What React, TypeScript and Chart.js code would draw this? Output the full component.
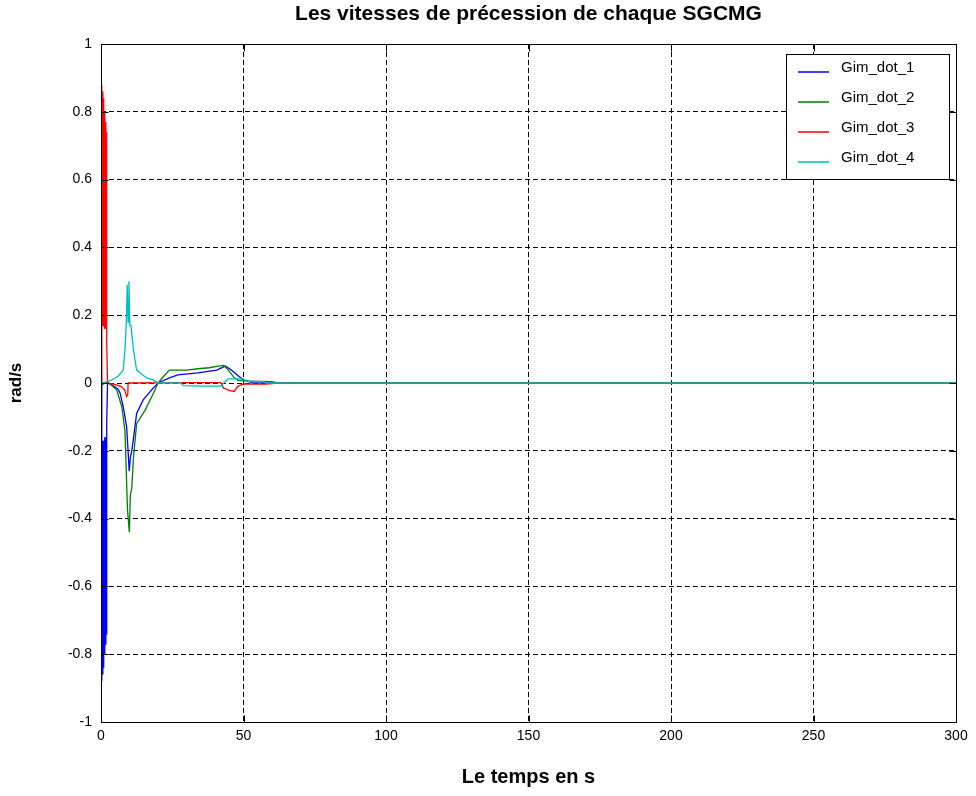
import React, { useEffect, useRef } from "react";
import { Chart, registerables } from "chart.js";

Chart.register(...registerables);

// Precession rates of each SGCMG gimbal: [time (s), rate (rad/s)]
const gimDot1: [number, number][] = [
  [0, 0], [0.2, -0.16], [0.35, -0.88], [0.5, -0.17], [0.65, -0.86], [0.8, -0.17],
  [0.95, -0.84], [1.1, -0.17], [1.25, -0.8], [1.4, -0.16], [1.55, -0.77], [1.7, -0.16],
  [1.85, -0.74], [2.0, -0.12], [2.3, 0], [3.2, -0.003], [5, -0.012], [6, -0.018],
  [6.7, -0.03], [7.8, -0.07], [9, -0.13], [9.5, -0.2], [9.9, -0.26], [10.3, -0.22],
  [10.8, -0.2], [11.3, -0.17], [12.5, -0.09], [14.8, -0.05], [18.3, -0.015], [20, 0],
  [24, 0.015], [27, 0.024], [34, 0.03], [40.6, 0.038], [43.6, 0.05], [45.5, 0.04],
  [47.7, 0.024], [50, 0.009], [53, 0.001], [300, 0],
];

const gimDot2: [number, number][] = [
  [0, 0], [0.5, -0.005], [2, 0.003], [3.5, -0.005], [5.5, -0.02], [7.3, -0.07],
  [8.4, -0.14], [9.3, -0.375], [9.95, -0.44], [10.3, -0.33], [10.8, -0.31], [11.4, -0.22],
  [12.5, -0.12], [15.5, -0.08], [18.4, -0.03], [20, 0], [22, 0.02], [24, 0.038],
  [30, 0.038], [34, 0.042], [38, 0.045], [41, 0.05], [43, 0.052], [44.5, 0.04],
  [46.5, 0.018], [48, 0.008], [50, 0.006], [56, 0.005], [60, 0.004], [62, 0], [300, 0],
];

const gimDot3: [number, number][] = [
  [0, 0], [0.2, 0.16], [0.35, 0.88], [0.5, 0.17], [0.65, 0.86], [0.8, 0.17],
  [0.95, 0.84], [1.1, 0.17], [1.25, 0.8], [1.4, 0.16], [1.55, 0.77], [1.7, 0.16],
  [1.85, 0.74], [2.0, 0.12], [2.3, 0], [3.5, -0.002], [5, -0.005], [7, -0.01],
  [8.3, -0.02], [9, -0.04], [9.4, -0.035], [9.5, 0], [28, 0.001], [42, 0.001],
  [43, -0.015], [45, -0.022], [46.7, -0.025], [48, -0.01], [50, -0.003], [58, -0.003],
  [62, 0], [300, 0],
];

const gimDot4: [number, number][] = [
  [0, 0], [2, 0.003], [3.8, 0.009], [6, 0.02], [7.8, 0.038], [8.4, 0.097],
  [8.9, 0.18], [9.2, 0.29], [9.5, 0.18], [9.8, 0.3], [10.1, 0.17], [10.5, 0.17],
  [11.4, 0.097], [12.5, 0.038], [16, 0.015], [18.3, 0.009], [20, 0], [28, 0],
  [29, -0.008], [36, -0.009], [42, -0.009], [44.6, 0.012], [50, 0.012], [51, 0.004],
  [57, 0.004], [58, 0], [300, 0],
];

const seriesLabels = ["Gim_dot_1", "Gim_dot_2", "Gim_dot_3", "Gim_dot_4"];
const seriesColors = ["#0000ff", "#008000", "#ff0000", "#00bfbf"];
const seriesData = [gimDot1, gimDot2, gimDot3, gimDot4];

const xTicks = [0, 50, 100, 150, 200, 250, 300];
const yTicks = [-1, -0.8, -0.6, -0.4, -0.2, 0, 0.2, 0.4, 0.6, 0.8, 1];

const FONT = "'Liberation Sans', Arial, Helvetica, sans-serif";

// Solid frame with inward tick marks on all four sides, plus the legend box
const framePlugin = {
  id: "frameAndLegend",
  afterDraw(chart: any) {
    const { ctx, chartArea: a, scales } = chart;
    ctx.save();
    ctx.strokeStyle = "#000";
    ctx.lineWidth = 1;
    ctx.setLineDash([]);
    const L = Math.round(a.left) + 0.5;
    const R = Math.round(a.right) + 0.5;
    const T = Math.round(a.top) + 0.5;
    const B = Math.round(a.bottom) + 0.5;
    ctx.strokeRect(L, T, R - L, B - T);
    const tick = 7;
    ctx.beginPath();
    for (const v of xTicks) {
      const x = Math.round(scales.x.getPixelForValue(v)) + 0.5;
      ctx.moveTo(x, B); ctx.lineTo(x, B - tick);
      ctx.moveTo(x, T); ctx.lineTo(x, T + tick);
    }
    for (const v of yTicks) {
      const y = Math.round(scales.y.getPixelForValue(v)) + 0.5;
      ctx.moveTo(L, y); ctx.lineTo(L + tick, y);
      ctx.moveTo(R, y); ctx.lineTo(R - tick, y);
    }
    ctx.stroke();

    // legend
    const bx = 786.5, by = 54.5, bw = 163, bh = 125;
    ctx.fillStyle = "#fff";
    ctx.fillRect(bx, by, bw, bh);
    ctx.strokeRect(bx, by, bw, bh);
    ctx.font = `15px ${FONT}`;
    ctx.textBaseline = "middle";
    ctx.textAlign = "left";
    seriesLabels.forEach((label, i) => {
      const y = 72 + i * 30;
      ctx.strokeStyle = seriesColors[i];
      ctx.lineWidth = 1.5;
      ctx.beginPath();
      ctx.moveTo(798, y);
      ctx.lineTo(829, y);
      ctx.stroke();
      ctx.fillStyle = "#000";
      ctx.fillText(label, 841, y - 4);
    });
    ctx.restore();
  },
};

export default function App() {
  const canvasRef = useRef<HTMLCanvasElement>(null);

  useEffect(() => {
    if (!canvasRef.current) return;
    const chart = new Chart(canvasRef.current, {
      type: "line",
      data: {
        datasets: seriesData.map((pts, i) => ({
          label: seriesLabels[i],
          data: pts.map(([x, y]) => ({ x, y })),
          borderColor: seriesColors[i],
          backgroundColor: seriesColors[i],
          borderWidth: 1.3,
          pointRadius: 0,
          tension: 0,
          fill: false,
          order: 4 - i,
        })),
      },
      options: {
        responsive: true,
        maintainAspectRatio: false,
        animation: false,
        events: [],
        layout: { padding: { left: 0, right: 20, top: 0, bottom: 0 } },
        plugins: {
          legend: { display: false },
          tooltip: { enabled: false },
          title: {
            display: true,
            text: "Les vitesses de précession de chaque SGCMG",
            fullSize: false,
            color: "#000",
            font: { family: FONT, size: 21, weight: "bold" },
            padding: { top: 2, bottom: 16.8 },
          },
        },
        scales: {
          x: {
            type: "linear",
            min: 0,
            max: 300,
            afterFit: (s: any) => { s.height = 74; },
            afterBuildTicks: (s: any) => { s.ticks = xTicks.map((v) => ({ value: v })); },
            ticks: {
              color: "#000",
              font: { family: FONT, size: 14 },
              padding: 6,
              maxRotation: 0,
              autoSkip: false,
              callback: (v: any) => String(v),
            },
            grid: { color: "#000", lineWidth: 1, drawTicks: false },
            border: { display: false, dash: [5, 3] },
            title: {
              display: true,
              text: "Le temps en s",
              color: "#000",
              font: { family: FONT, size: 20, weight: "bold" },
              padding: { top: 7, bottom: 7 },
            },
          },
          y: {
            type: "linear",
            min: -1,
            max: 1,
            afterFit: (s: any) => { s.width = 101; },
            afterBuildTicks: (s: any) => { s.ticks = yTicks.map((v) => ({ value: v })); },
            ticks: {
              color: "#000",
              font: { family: FONT, size: 14 },
              padding: 9,
              autoSkip: false,
              callback: (v: any) => String(Number(Number(v).toFixed(1))),
            },
            grid: { color: "#000", lineWidth: 1, drawTicks: false },
            border: { display: false, dash: [5, 3] },
            title: {
              display: true,
              text: "rad/s",
              color: "#000",
              font: { family: FONT, size: 17, weight: "bold" },
              padding: { top: 6, bottom: 6 },
            },
          },
        },
      },
      plugins: [framePlugin],
    } as any);
    return () => chart.destroy();
  }, []);

  return (
    <div
      style={{
        position: "absolute",
        left: 0,
        top: 0,
        width: 976,
        height: 796,
        background: "#fff",
      }}
    >
      <canvas ref={canvasRef} />
    </div>
  );
}
